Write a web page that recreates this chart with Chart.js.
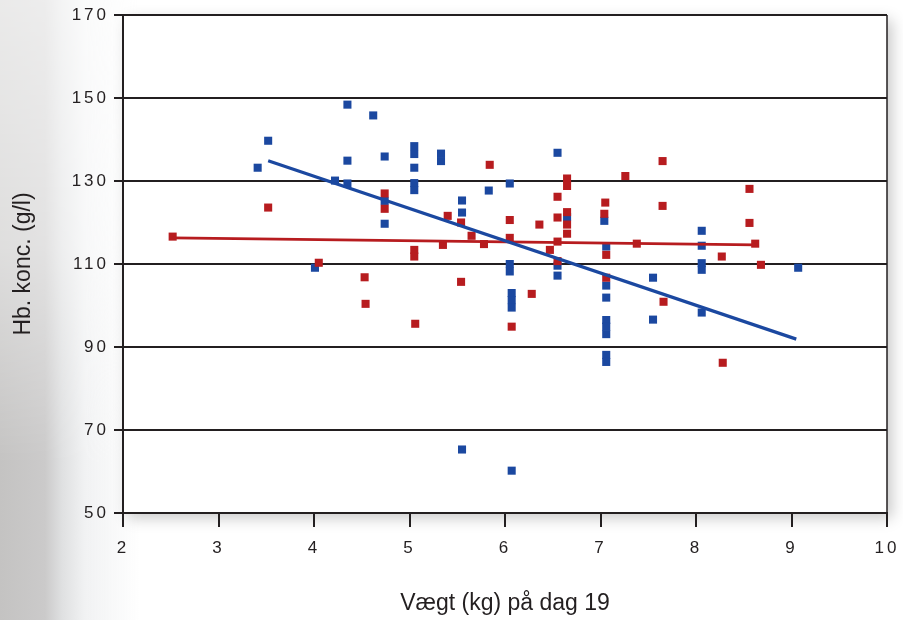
<html>
<head>
    <title>Hb. konc. vs vægt</title>
    <script src="https://cdn.jsdelivr.net/npm/chart.js"></script>
    <style>
        html, body {
            margin: 0;
            padding: 0;
            width: 903px;
            height: 620px;
            overflow: hidden;
            background: #ffffff;
        }
        .photo {
            position: absolute;
            left: 0;
            top: 0;
            width: 140px;
            height: 620px;
            background: linear-gradient(to right, #c4c3c2 0px, #cbcaca 45px, #dfe0e1 62px, #f1f2f3 85px, rgba(255,255,255,0) 140px);
            -webkit-mask-image: linear-gradient(to bottom, rgba(0,0,0,0.35) 0%, rgba(0,0,0,0.55) 40%, rgba(0,0,0,1) 75%);
            mask-image: linear-gradient(to bottom, rgba(0,0,0,0.35) 0%, rgba(0,0,0,0.55) 40%, rgba(0,0,0,1) 75%);
        }
        #wrap {
            position: absolute;
            left: 0;
            top: 0;
        }
    </style>
</head>

<body>
    <div class="photo"></div>
    <div id="wrap"><canvas id="chart" width="903" height="620"></canvas></div>

    <script>
        // blå punkter
        var blueX = [3.41, 3.52, 4.01, 4.22, 4.35, 4.35, 4.35, 4.62, 4.74, 4.74, 4.74,
            5.05, 5.05, 5.05, 5.05, 5.05, 5.33, 5.33, 5.55, 5.55, 5.55, 5.83,
            6.05, 6.05, 6.05, 6.07, 6.07, 6.07, 6.07, 6.55, 6.55, 6.55, 6.65,
            7.04, 7.06, 7.06, 7.06, 7.06, 7.06, 7.06, 7.06, 7.06,
            7.55, 7.55, 8.06, 8.06, 8.06, 8.06, 8.06, 9.07];
        var blueY = [133.2, 139.7, 109.1, 130.1, 148.4, 134.9, 129.4, 145.8, 135.9, 125.2, 119.7,
            138.4, 136.5, 133.2, 129.5, 127.8, 136.6, 134.8, 125.3, 122.4, 65.3, 127.7,
            129.4, 110.0, 108.2, 103.0, 101.3, 99.5, 60.2, 136.8, 109.6, 107.2, 121.3,
            120.4, 114.2, 104.8, 101.9, 96.5, 94.9, 93.1, 88.1, 86.4,
            106.7, 96.6, 118.0, 114.4, 110.2, 108.6, 98.3, 109.1];

        // røde punkter
        var redX = [2.52, 3.52, 4.05, 4.53, 4.54, 4.74, 4.74, 5.05, 5.05, 5.06,
            5.35, 5.40, 5.54, 5.54, 5.65, 5.78, 5.84, 6.05, 6.05, 6.07,
            6.28, 6.36, 6.47, 6.55, 6.55, 6.55, 6.55, 6.65, 6.65, 6.65, 6.65, 6.65,
            7.05, 7.04, 7.06, 7.06, 7.26, 7.38, 7.65, 7.65, 7.66,
            8.27, 8.28, 8.56, 8.56, 8.62, 8.68];
        var redY = [116.6, 123.6, 110.3, 106.8, 100.4, 127.0, 123.3, 113.4, 111.8, 95.6,
            114.6, 121.6, 120.0, 105.7, 116.8, 114.8, 133.9, 120.6, 116.3, 94.9,
            102.8, 119.5, 113.4, 126.2, 121.2, 115.4, 110.7, 130.6, 128.8, 122.5, 119.5, 117.3,
            124.8, 122.1, 112.2, 106.7, 131.2, 114.9, 134.8, 124.0, 100.9,
            111.8, 86.2, 128.1, 119.9, 114.9, 109.8];

        // tendenslinjer (endepunkter)
        var blueTrendX = [3.52, 9.05];
        var blueTrendY = [134.9, 91.9];
        var redTrendX = [2.52, 8.62];
        var redTrendY = [116.3, 114.6];

        var xTicks = [2, 3, 4, 5, 6, 7, 8, 9, 10];
        var yTicks = [50, 70, 90, 110, 130, 150, 170];

        var BLUE = "#1b48a0";
        var RED = "#b71c1f";
        var INK = "#231f20";

        function pts(xs, ys) {
            return xs.map(function (x, i) { return { x: x, y: ys[i] }; });
        }

        // hvid plotflade med skygge
        var plotBg = {
            id: "plotBg",
            beforeDraw: function (chart) {
                var a = chart.chartArea, ctx = chart.ctx;
                ctx.save();
                ctx.shadowColor = "rgba(0,0,0,0.22)";
                ctx.shadowBlur = 14;
                ctx.shadowOffsetX = 5;
                ctx.shadowOffsetY = 5;
                ctx.fillStyle = "#ffffff";
                ctx.fillRect(a.left, a.top, a.right - a.left, a.bottom - a.top);
                ctx.restore();
            },
            afterDraw: function (chart) {
                var a = chart.chartArea, ctx = chart.ctx;
                ctx.save();
                ctx.strokeStyle = INK;
                ctx.lineWidth = 1.5;
                ctx.beginPath();
                ctx.moveTo(a.right, a.top);
                ctx.lineTo(a.right, a.bottom);
                ctx.stroke();
                ctx.restore();
            }
        };

        var tickFont = { family: "'Liberation Sans', Arial, sans-serif", size: 17 };
        var titleFont = { family: "'Liberation Sans', Arial, sans-serif", size: 23 };

        var chart = new Chart(document.getElementById("chart"), {
            type: "scatter",
            data: {
                datasets: [
                    {
                        type: "line", data: pts(blueTrendX, blueTrendY), borderColor: BLUE,
                        borderWidth: 3.2, pointRadius: 0, fill: false, order: 0
                    },
                    {
                        type: "line", data: pts(redTrendX, redTrendY), borderColor: RED,
                        borderWidth: 2.6, pointRadius: 0, fill: false, order: 0
                    },
                    {
                        data: pts(redX, redY), backgroundColor: RED, borderWidth: 0,
                        pointStyle: "rect", pointRadius: 5.7, order: 1
                    },
                    {
                        data: pts(blueX, blueY), backgroundColor: BLUE, borderWidth: 0,
                        pointStyle: "rect", pointRadius: 5.7, order: 2
                    }
                ]
            },
            plugins: [plotBg],
            options: {
                responsive: false,
                animation: false,
                layout: { padding: { top: 15, right: 16, left: 0, bottom: 0 } },
                plugins: { legend: { display: false }, tooltip: { enabled: false } },
                scales: {
                    x: {
                        type: "linear", min: 2, max: 10,
                        afterBuildTicks: function (s) { s.ticks = xTicks.map(function (v) { return { value: v }; }); },
                        afterFit: function (s) { s.height = 107; s.paddingLeft = 0; s.paddingRight = 0; },
                        ticks: { font: tickFont, color: INK, padding: 11, maxRotation: 0 },
                        grid: { drawOnChartArea: false, tickLength: 14, color: INK, lineWidth: 2 },
                        border: { color: INK, width: 2 },
                        title: {
                            display: true, text: "Vægt (kg) på dag 19", font: titleFont, color: INK,
                            padding: { top: 0, bottom: 3 }
                        }
                    },
                    y: {
                        min: 50, max: 170,
                        afterBuildTicks: function (s) { s.ticks = yTicks.map(function (v) { return { value: v }; }); },
                        afterFit: function (s) { s.width = 123; s.paddingTop = 0; s.paddingBottom = 0; },
                        ticks: { font: tickFont, color: INK, padding: 5 },
                        grid: { tickLength: 9, color: INK, lineWidth: 2 },
                        border: { color: INK, width: 2 },
                        title: {
                            display: true, text: "Hb. konc. (g/l)", font: titleFont, color: INK,
                            padding: { top: 10, bottom: 0 }
                        }
                    }
                }
            }
        });

        // spærret skrift på akseetiketterne, som i originalen
        ["x", "y"].forEach(function (id) {
            var s = chart.scales[id];
            var orig = s.drawLabels.bind(s);
            s.drawLabels = function (area) {
                var ctx = this.ctx;
                ctx.save();
                ctx.letterSpacing = "3px";
                orig(area);
                ctx.restore();
            };
        });
        chart.draw();
    </script>
</body>
</html>
